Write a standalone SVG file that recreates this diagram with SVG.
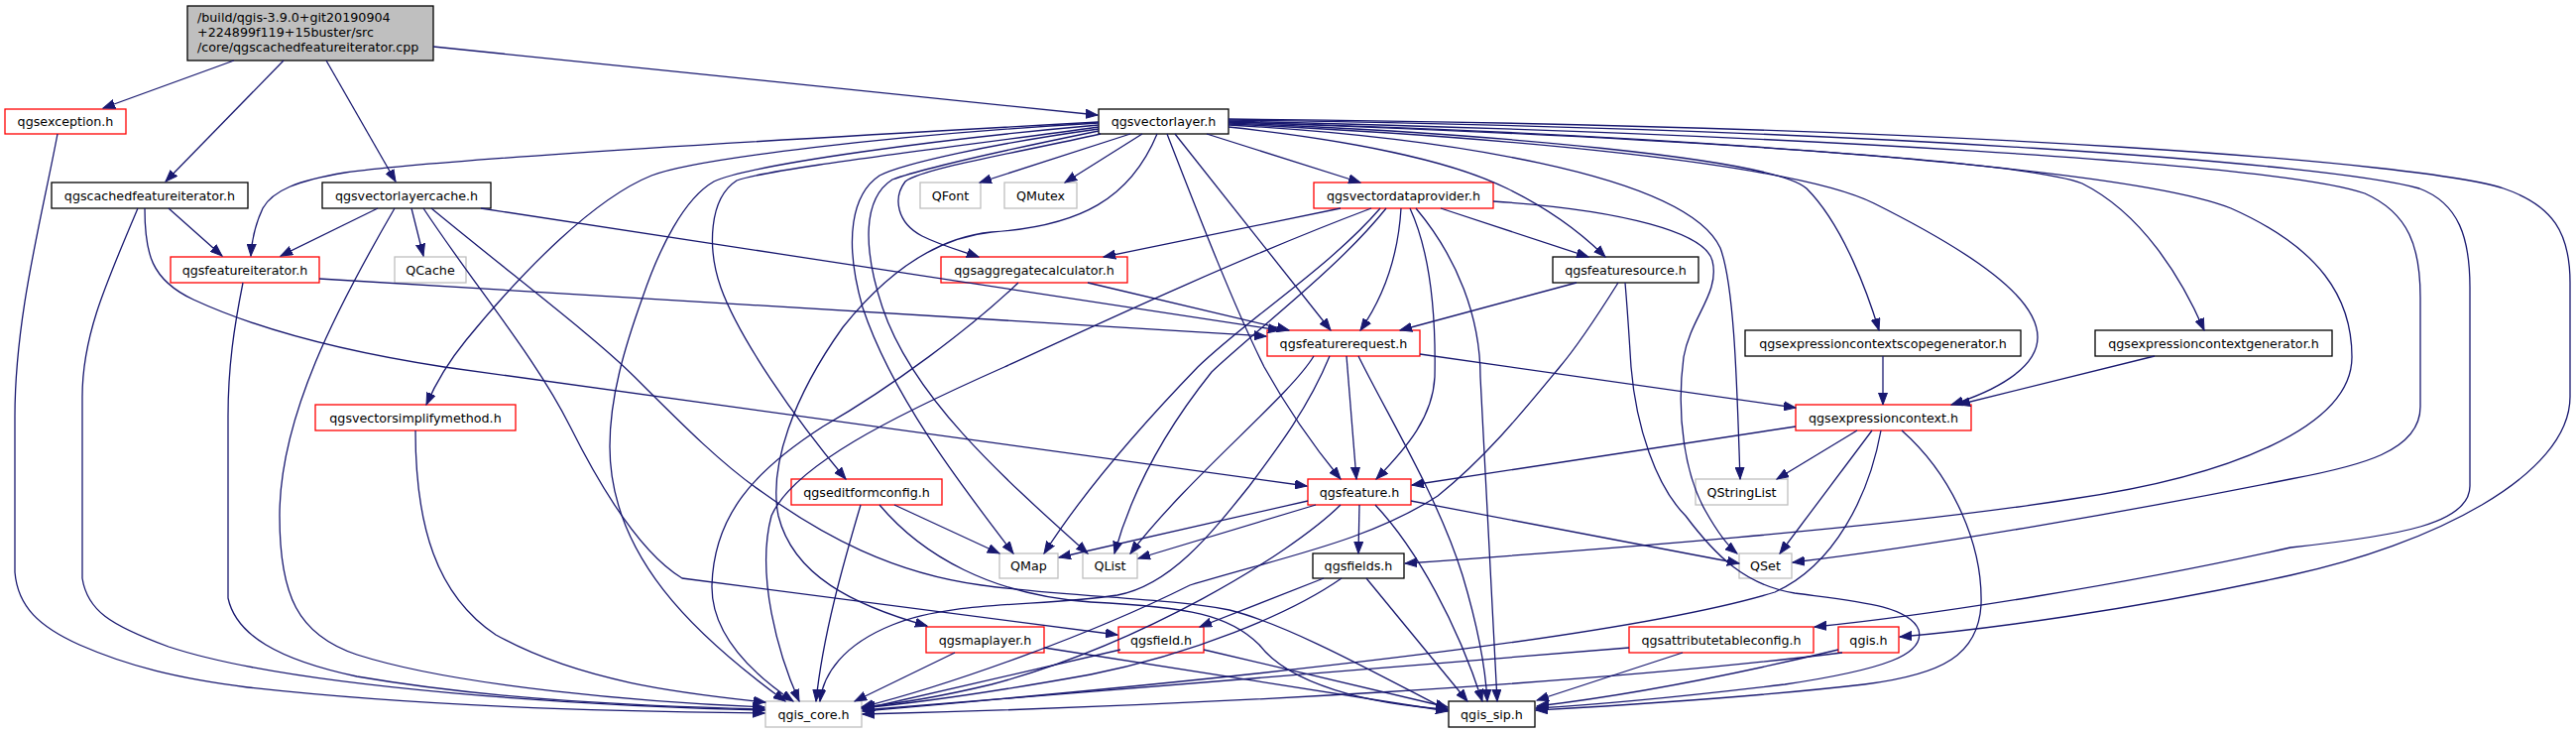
<svg xmlns="http://www.w3.org/2000/svg" width="2598" height="739" viewBox="0 0 2598 739">
<style>
.e{fill:none;stroke:#191970;stroke-width:1.3;marker-end:url(#ah)}
.t{font-family:"DejaVu Sans","Liberation Sans",sans-serif;font-size:12.7px;fill:#000;text-anchor:middle}
.r{fill:#fff;stroke:#ff0000;stroke-width:1.3}
.b{fill:#fff;stroke:#000;stroke-width:1.3}
.g{fill:#fff;stroke:#bfbfbf;stroke-width:1.3}
</style>
<defs>
<marker id="ah" markerUnits="userSpaceOnUse" markerWidth="13" markerHeight="10" refX="12" refY="5" orient="auto">
<path d="M0,0.5 L12,5 L0,9.5 z" fill="#191970" stroke="#191970" stroke-width="1"/>
</marker>
</defs>
<rect width="2598" height="739" fill="#fff"/>
<g id="nodes">
<g id="root"><rect x="189" y="6" width="248" height="55" fill="#bfbfbf" stroke="#000" stroke-width="1.3"/>
<text class="t" style="text-anchor:start" x="199" y="21.8">/build/qgis-3.9.0+git20190904</text>
<text class="t" style="text-anchor:start" x="199" y="37.2">+224899f119+15buster/src</text>
<text class="t" style="text-anchor:start" x="199" y="51.7">/core/qgscachedfeatureiterator.cpp</text></g>
<g id="n_qgsexception"><rect class="r" x="5" y="110" width="122" height="25"/><text class="t" x="66" y="127">qgsexception.h</text></g>
<g id="n_qgsvectorlayer"><rect class="b" x="1108" y="110" width="131" height="25"/><text class="t" x="1173.5" y="127">qgsvectorlayer.h</text></g>
<g id="n_qgscachedfeatureiterator"><rect class="b" x="52" y="184" width="198" height="26"/><text class="t" x="151" y="201.5">qgscachedfeatureiterator.h</text></g>
<g id="n_qgsvectorlayercache"><rect class="b" x="325" y="184" width="170" height="26"/><text class="t" x="410" y="201.5">qgsvectorlayercache.h</text></g>
<g id="n_QFont"><rect class="g" x="928" y="184" width="61" height="26"/><text class="t" x="958.5" y="201.5">QFont</text></g>
<g id="n_QMutex"><rect class="g" x="1013" y="184" width="73" height="26"/><text class="t" x="1049.5" y="201.5">QMutex</text></g>
<g id="n_qgsvectordataprovider"><rect class="r" x="1325" y="184" width="181" height="26"/><text class="t" x="1415.5" y="201.5">qgsvectordataprovider.h</text></g>
<g id="n_qgsfeatureiterator"><rect class="r" x="172" y="259" width="150" height="26"/><text class="t" x="247" y="276.5">qgsfeatureiterator.h</text></g>
<g id="n_QCache"><rect class="g" x="398" y="259" width="72" height="26"/><text class="t" x="434" y="276.5">QCache</text></g>
<g id="n_qgsaggregatecalculator"><rect class="r" x="949" y="259" width="188" height="26"/><text class="t" x="1043" y="276.5">qgsaggregatecalculator.h</text></g>
<g id="n_qgsfeaturesource"><rect class="b" x="1566" y="259" width="147" height="26"/><text class="t" x="1639.5" y="276.5">qgsfeaturesource.h</text></g>
<g id="n_qgsfeaturerequest"><rect class="r" x="1278" y="333" width="154" height="26"/><text class="t" x="1355" y="350.5">qgsfeaturerequest.h</text></g>
<g id="n_qgsexpressioncontextscopegenerator"><rect class="b" x="1760" y="333" width="278" height="26"/><text class="t" x="1899" y="350.5">qgsexpressioncontextscopegenerator.h</text></g>
<g id="n_qgsexpressioncontextgenerator"><rect class="b" x="2113" y="333" width="239" height="26"/><text class="t" x="2232.5" y="350.5">qgsexpressioncontextgenerator.h</text></g>
<g id="n_qgsvectorsimplifymethod"><rect class="r" x="318" y="408" width="202" height="26"/><text class="t" x="419" y="425.5">qgsvectorsimplifymethod.h</text></g>
<g id="n_qgsexpressioncontext"><rect class="r" x="1811" y="408" width="177" height="26"/><text class="t" x="1899.5" y="425.5">qgsexpressioncontext.h</text></g>
<g id="n_qgseditformconfig"><rect class="r" x="798" y="483" width="152" height="26"/><text class="t" x="874" y="500.5">qgseditformconfig.h</text></g>
<g id="n_qgsfeature"><rect class="r" x="1319" y="483" width="104" height="26"/><text class="t" x="1371" y="500.5">qgsfeature.h</text></g>
<g id="n_QStringList"><rect class="g" x="1710" y="483" width="93" height="26"/><text class="t" x="1756.5" y="500.5">QStringList</text></g>
<g id="n_QMap"><rect class="g" x="1008" y="558" width="59" height="25"/><text class="t" x="1037.5" y="575">QMap</text></g>
<g id="n_QList"><rect class="g" x="1092" y="558" width="55" height="25"/><text class="t" x="1119.5" y="575">QList</text></g>
<g id="n_qgsfields"><rect class="b" x="1324" y="558" width="92" height="25"/><text class="t" x="1370" y="575">qgsfields.h</text></g>
<g id="n_QSet"><rect class="g" x="1754" y="558" width="53" height="25"/><text class="t" x="1780.5" y="575">QSet</text></g>
<g id="n_qgsmaplayer"><rect class="r" x="934" y="632" width="119" height="26"/><text class="t" x="993.5" y="649.5">qgsmaplayer.h</text></g>
<g id="n_qgsfield"><rect class="r" x="1128" y="632" width="86" height="26"/><text class="t" x="1171" y="649.5">qgsfield.h</text></g>
<g id="n_qgsattributetableconfig"><rect class="r" x="1643" y="632" width="186" height="26"/><text class="t" x="1736" y="649.5">qgsattributetableconfig.h</text></g>
<g id="n_qgis"><rect class="r" x="1854" y="632" width="61" height="26"/><text class="t" x="1884.5" y="649.5">qgis.h</text></g>
<g id="n_qgis_core"><rect class="g" x="772" y="707" width="97" height="26"/><text class="t" x="820.5" y="724.5">qgis_core.h</text></g>
<g id="n_qgis_sip"><rect class="b" x="1461" y="707" width="87" height="26"/><text class="t" x="1504.5" y="724.5">qgis_sip.h</text></g>
</g>
<g id="connectors">
<path class="e" d="M236,61 L104,109"/>
<path class="e" d="M286,61 L167,183"/>
<path class="e" d="M329,61 L399,183"/>
<path class="e" d="M437,47 L1107,116"/>
<path class="e" d="M58,135 C42,220 15,320 15,420 L15,577 C18,612 40,632 80,650 C130,672 180,684 250,693 C420,712 600,717 771,719"/>
<path class="e" d="M170,210 L224,258"/>
<path class="e" d="M139,210 C105,290 83,340 83,400 L83,583 C88,615 110,630 170,652 C300,695 600,712 771,716"/>
<path class="e" d="M146,210 C146,255 152,282 195,302 C260,332 350,355 448,370 L1318,490"/>
<path class="e" d="M381,210 L283,258"/>
<path class="e" d="M415,210 L427,258"/>
<path class="e" d="M398,210 C340,310 282,420 282,520 C282,600 300,640 360,660 C460,692 650,708 771,713"/>
<path class="e" d="M427,210 C480,290 540,360 575,430 C610,500 650,560 688,583 L1127,640"/>
<path class="e" d="M435,210 C520,280 600,340 640,380 C690,430 730,470 770,497 C830,540 900,578 990,590 C1080,602 1180,603 1240,615 C1300,630 1390,680 1460,716"/>
<path class="e" d="M485,210 L1291,333"/>
<path class="e" d="M322,281 L1277,339"/>
<path class="e" d="M245,285 C236,330 230,370 230,420 L230,603 C238,640 280,665 360,682 C500,706 650,712 771,715"/>
<path class="e" d="M419,434 C419,530 440,600 500,640 C590,690 700,700 772,708"/>
<path class="e" d="M1140,135 L988,184"/>
<path class="e" d="M1152,135 L1074,184"/>
<path class="e" d="M1217,135 L1372,184"/>
<path class="e" d="M1185,135 L1342,333"/>
<path class="e" d="M1177,135 C1210,220 1245,310 1275,370 C1300,415 1325,450 1352,483"/>
<path class="e" d="M1239,128 C1350,140 1460,160 1520,190 C1565,212 1595,235 1619,259"/>
<path class="e" d="M1239,126 C1450,138 1700,175 1735,250 C1750,290 1752,400 1755,483"/>
<path class="e" d="M1239,124 C1500,134 1790,160 1822,190 C1860,228 1885,300 1895,333"/>
<path class="e" d="M1239,125 C1520,138 1810,165 1890,205 C1990,255 2055,300 2055,340 C2055,372 2010,395 1968,408"/>
<path class="e" d="M1239,123 C1600,135 2040,160 2100,185 C2160,215 2200,280 2223,333"/>
<path class="e" d="M1239,123 C1700,136 2150,170 2250,210 C2340,250 2372,300 2372,360 C2372,430 2250,480 2090,503 C1900,533 1600,555 1417,568"/>
<path class="e" d="M1239,122 C1800,135 2300,165 2385,195 C2430,215 2441,250 2441,300 L2441,410 C2441,455 2380,470 2310,483 C2150,515 1950,550 1808,567"/>
<path class="e" d="M1239,121 C1900,130 2350,165 2440,190 C2480,205 2491,240 2491,290 L2491,490 C2491,528 2420,540 2310,552 C2150,588 1950,620 1830,632"/>
<path class="e" d="M1239,120 C2000,127 2450,165 2525,190 C2575,207 2592,235 2592,285 L2592,400 C2592,480 2450,550 2310,580 C2150,615 2000,635 1916,642"/>
<path class="e" d="M1108,123 C800,140 450,160 348,174 C300,182 275,192 265,210 C258,225 254,240 253,258"/>
<path class="e" d="M1108,124 C900,136 700,160 657,177 C600,200 530,270 470,343 C452,365 440,385 430,408"/>
<path class="e" d="M1108,126 C950,140 760,165 720,183 C690,200 665,250 648,300 C630,350 615,400 615,450 C615,560 700,640 792,707"/>
<path class="e" d="M1108,128 C950,150 775,170 743,182 C715,200 713,250 727,290 C745,340 800,420 853,483"/>
<path class="e" d="M1108,130 C1000,145 910,165 887,177 C860,195 850,240 870,310 C900,400 970,490 1022,558"/>
<path class="e" d="M1108,132 C1020,150 930,170 900,181 C870,200 870,250 890,310 C920,400 1010,480 1097,558"/>
<path class="e" d="M1110,135 C1020,155 930,170 913,183 C900,200 905,225 930,238 C950,248 970,253 987,259"/>
<path class="e" d="M1167,135 C1140,200 1090,228 1000,234 C940,240 890,280 850,330 C800,400 775,470 785,520 C800,580 860,610 935,631"/>
<path class="e" d="M1352,210 L1113,259"/>
<path class="e" d="M1383,210 C1250,260 1100,330 1013,370 C900,420 800,470 778,520 C762,580 785,660 806,707"/>
<path class="e" d="M1392,210 C1340,270 1260,320 1208,370 C1150,430 1090,500 1053,558"/>
<path class="e" d="M1398,210 C1350,270 1270,330 1222,375 C1170,440 1140,500 1124,558"/>
<path class="e" d="M1413,210 C1410,260 1395,300 1372,333"/>
<path class="e" d="M1422,210 C1445,260 1448,330 1447,380 C1445,420 1420,450 1388,483"/>
<path class="e" d="M1453,210 L1602,259"/>
<path class="e" d="M1428,210 C1470,260 1493,320 1493,380 L1510,707"/>
<path class="e" d="M1506,203 C1640,212 1720,235 1727,263 C1735,295 1705,320 1698,360 C1690,420 1700,480 1720,515 C1733,538 1742,550 1752,558"/>
<path class="e" d="M1097,285 L1300,333"/>
<path class="e" d="M1027,285 C980,330 900,390 830,430 C760,475 720,520 718,590 C717,640 760,680 800,707"/>
<path class="e" d="M1590,285 L1412,333"/>
<path class="e" d="M1632,285 C1610,320 1590,350 1573,370 C1540,410 1500,460 1450,500 C1380,545 1300,560 1200,590 C1100,640 960,690 869,713"/>
<path class="e" d="M1639,285 C1642,320 1643,340 1645,370 C1650,430 1670,490 1700,520 C1730,560 1760,590 1810,598 C1870,606 1925,610 1935,635 C1942,660 1900,675 1800,690 C1700,702 1620,710 1549,714"/>
<path class="e" d="M1358,359 L1368,483"/>
<path class="e" d="M1370,359 C1400,420 1450,500 1475,580 C1490,630 1498,670 1500,707"/>
<path class="e" d="M1325,359 C1300,400 1200,480 1140,558"/>
<path class="e" d="M1341,359 C1320,410 1290,450 1260,490 C1220,540 1180,590 1127,600 C1050,612 960,605 900,630 C850,650 830,680 827,707"/>
<path class="e" d="M1432,357 L1811,411"/>
<path class="e" d="M1899,359 L1899,408"/>
<path class="e" d="M2173,359 L1975,408"/>
<path class="e" d="M1811,430 L1424,489"/>
<path class="e" d="M1873,434 L1792,483"/>
<path class="e" d="M1888,434 L1795,558"/>
<path class="e" d="M1897,434 C1885,500 1850,570 1790,597 C1650,640 1300,680 870,717"/>
<path class="e" d="M1918,434 C1970,480 2000,550 1998,610 C1995,660 1960,680 1880,690 C1750,705 1620,712 1549,716"/>
<path class="e" d="M1371,509 L1370,558"/>
<path class="e" d="M1423,505 L1754,568"/>
<path class="e" d="M1319,505 L1068,562"/>
<path class="e" d="M1327,509 L1148,563"/>
<path class="e" d="M1352,509 C1300,560 1150,650 1000,690 C950,702 900,710 870,713"/>
<path class="e" d="M1387,509 C1430,555 1470,630 1495,707"/>
<path class="e" d="M1335,583 L1210,632"/>
<path class="e" d="M1353,583 C1300,620 1200,660 1100,680 C1000,698 930,708 869,714"/>
<path class="e" d="M1378,583 L1480,707"/>
<path class="e" d="M1130,655 L870,715"/>
<path class="e" d="M1214,655 L1460,713"/>
<path class="e" d="M963,658 L862,707"/>
<path class="e" d="M1053,653 L1460,717"/>
<path class="e" d="M902,509 L1008,558"/>
<path class="e" d="M868,509 C850,570 830,640 823,707"/>
<path class="e" d="M887,509 C930,560 1000,600 1100,607 C1200,612 1240,620 1270,650 C1300,690 1380,710 1460,715"/>
<path class="e" d="M1643,653 L870,716"/>
<path class="e" d="M1697,658 L1550,706"/>
<path class="e" d="M1854,655 C1750,680 1650,700 1550,712"/>
<path class="e" d="M1858,658 C1600,690 1200,712 870,720"/>
</g>
</svg>
